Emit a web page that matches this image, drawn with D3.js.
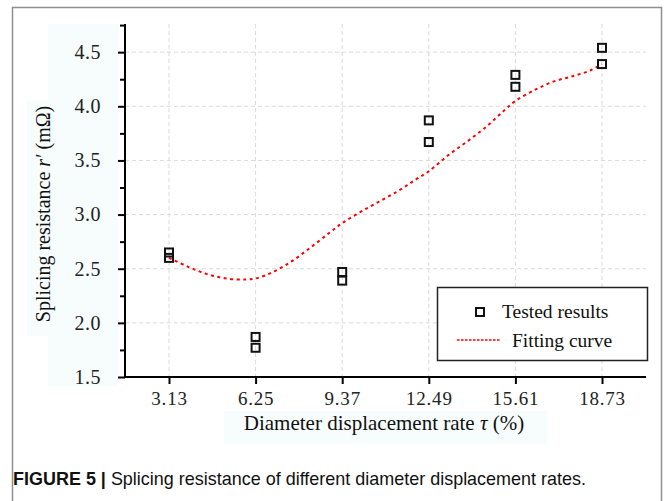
<!DOCTYPE html>
<html>
<head>
<meta charset="utf-8">
<script src="https://d3js.org/d3.v7.min.js"></script>
<style>
  html, body { margin: 0; padding: 0; background: #fff; }
  svg { display: block; }
</style>
</head>
<body>
<div id="chart"></div>
<script>
// Splicing resistance vs diameter displacement rate

const xTicks = [3.13, 6.25, 9.37, 12.49, 15.61, 18.73];
const yTicks = [1.5, 2.0, 2.5, 3.0, 3.5, 4.0, 4.5];

// tested results (two samples per rate)
const testedX = [3.13, 3.13, 6.25, 6.25, 9.37, 9.37, 12.49, 12.49, 15.61, 15.61, 18.73, 18.73];
const testedY = [2.65, 2.60, 1.87, 1.77, 2.47, 2.39, 3.87, 3.67, 4.29, 4.18, 4.54, 4.39];

// fitting curve
const fitX = [3.13, 3.8, 4.5, 5.2, 5.9, 6.25, 6.8, 7.5, 8.2, 8.9, 9.37, 10.0, 10.7, 11.4, 12.0, 12.49, 13.2, 13.9, 14.6, 15.2, 15.61, 16.3, 17.0, 17.7, 18.3, 18.73];
const fitY = [2.60, 2.52, 2.45, 2.41, 2.40, 2.41, 2.46, 2.56, 2.69, 2.83, 2.92, 3.02, 3.12, 3.22, 3.32, 3.40, 3.55, 3.68, 3.82, 3.96, 4.05, 4.15, 4.23, 4.28, 4.33, 4.39];

const width = 665, height = 501;
const plot = { left: 125, right: 646, top: 24, bottom: 377 };

const svg = d3.select('#chart').append('svg')
  .attr('width', width)
  .attr('height', height);

// very faint tint behind axis text (as in the scan)
const tint = '#f7fcfd';
svg.append('rect').attr('x', 48).attr('y', 24).attr('width', 70).attr('height', 362).attr('fill', tint);
svg.append('rect').attr('x', 27).attr('y', 100).attr('width', 30).attr('height', 236).attr('fill', tint);
svg.append('rect').attr('x', 224).attr('y', 411).attr('width', 323).attr('height', 33).attr('fill', tint);

// outer frame
svg.append('rect')
  .attr('x', 12.5).attr('y', 7.5)
  .attr('width', 649).attr('height', 600)
  .attr('fill', 'none')
  .attr('stroke', '#8f8f8f')
  .attr('stroke-width', 1.5);

const x = d3.scaleLinear()
  .domain([3.13 - 1.585, 18.73 + 1.585])
  .range([plot.left, plot.right]);

const y = d3.scaleLinear()
  .domain([1.5, 4.76])
  .range([plot.bottom, plot.top]);

// grid
const grid = svg.append('g').attr('class', 'grid');
grid.selectAll('.vgrid')
  .data(xTicks)
  .enter().append('line')
  .attr('x1', d => x(d)).attr('x2', d => x(d))
  .attr('y1', plot.top).attr('y2', plot.bottom)
  .attr('stroke', '#dadada')
  .attr('stroke-width', 1)
  .attr('stroke-dasharray', '4,3');
grid.selectAll('.hgrid')
  .data(yTicks.slice(1))
  .enter().append('line')
  .attr('x1', plot.left).attr('x2', plot.right)
  .attr('y1', d => y(d)).attr('y2', d => y(d))
  .attr('stroke', '#dadada')
  .attr('stroke-width', 1)
  .attr('stroke-dasharray', '4,3');

const serif = '"Liberation Serif", "Times New Roman", serif';

// y axis with minor ticks
const minorTicks = yTicks.map(d => d + 0.25);
const yMinor = d3.axisLeft(y).tickValues(minorTicks).tickSize(5).tickFormat('');
svg.append('g')
  .attr('transform', `translate(${plot.left},0)`)
  .call(yMinor)
  .call(g => g.select('.domain').remove())
  .call(g => g.selectAll('line').attr('stroke', '#000').attr('stroke-width', 2));

const yAxis = d3.axisLeft(y).tickValues(yTicks).tickSize(7).tickPadding(17).tickFormat(d3.format('.1f'));
svg.append('g')
  .attr('transform', `translate(${plot.left},0)`)
  .call(yAxis)
  .call(g => g.select('.domain').attr('d', `M0,${plot.top}V${plot.bottom}`).attr('stroke', '#000').attr('stroke-width', 2))
  .call(g => g.selectAll('line').attr('stroke', '#000').attr('stroke-width', 2))
  .call(g => g.selectAll('text')
    .attr('fill', '#222')
    .style('font-family', serif)
    .style('font-size', '20px')
    .style('letter-spacing', '0.5px'));

// x axis
const xAxis = d3.axisBottom(x).tickValues(xTicks).tickSize(7).tickPadding(8).tickFormat(d3.format('.2f'));
svg.append('g')
  .attr('transform', `translate(0,${plot.bottom})`)
  .call(xAxis)
  .call(g => g.select('.domain').attr('d', `M${plot.left},0H${plot.right}`).attr('stroke', '#000').attr('stroke-width', 2))
  .call(g => g.selectAll('line').attr('stroke', '#000').attr('stroke-width', 2))
  .call(g => g.selectAll('text')
    .attr('fill', '#222')
    .style('font-family', serif)
    .style('font-size', '19px')
    .style('letter-spacing', '0.8px'));

// fitting curve
const fitData = fitX.map((d, i) => [d, fitY[i]]);
const line = d3.line()
  .x(d => x(d[0]))
  .y(d => y(d[1]))
  .curve(d3.curveCatmullRom);
svg.append('path')
  .datum(fitData)
  .attr('d', line)
  .attr('fill', 'none')
  .attr('stroke', '#ff0000')
  .attr('stroke-width', 2)
  .attr('stroke-dasharray', '3,3.5');

// tested results
const sq = 8;
svg.selectAll('.tested')
  .data(testedX.map((d, i) => [d, testedY[i]]))
  .enter().append('rect')
  .attr('class', 'tested')
  .attr('x', d => x(d[0]) - sq / 2)
  .attr('y', d => y(d[1]) - sq / 2)
  .attr('width', sq).attr('height', sq)
  .attr('fill', 'none')
  .attr('stroke', '#111')
  .attr('stroke-width', 2);

// legend
const legend = svg.append('g');
legend.append('rect')
  .attr('x', 437.5).attr('y', 287.5)
  .attr('width', 210).attr('height', 73)
  .attr('fill', '#fff')
  .attr('stroke', '#222')
  .attr('stroke-width', 1.5);
legend.append('rect')
  .attr('x', 476).attr('y', 308)
  .attr('width', sq).attr('height', sq)
  .attr('fill', 'none').attr('stroke', '#111').attr('stroke-width', 2);
legend.append('line')
  .attr('x1', 457).attr('x2', 501)
  .attr('y1', 340).attr('y2', 340)
  .attr('stroke', '#ff0000').attr('stroke-width', 1.5)
  .attr('stroke-dasharray', '2.5,1.5');
legend.append('text')
  .attr('x', 502).attr('y', 318)
  .style('font-family', serif).style('font-size', '19.5px')
  .attr('fill', '#111')
  .text('Tested results');
legend.append('text')
  .attr('x', 512).attr('y', 347)
  .style('font-family', serif).style('font-size', '19.5px')
  .attr('fill', '#111')
  .text('Fitting curve');

// axis titles
const xTitle = svg.append('text')
  .attr('x', 384).attr('y', 430)
  .attr('text-anchor', 'middle')
  .style('font-family', serif).style('font-size', '21px')
  .attr('fill', '#111');
xTitle.append('tspan').text('Diameter displacement rate ');
xTitle.append('tspan').style('font-style', 'italic').text('τ');
xTitle.append('tspan').text(' (%)');

const yTitle = svg.append('text')
  .attr('transform', 'translate(50,214) rotate(-90)')
  .attr('text-anchor', 'middle')
  .style('font-family', serif).style('font-size', '20px')
  .attr('fill', '#111');
yTitle.append('tspan').text('Splicing resistance ');
yTitle.append('tspan').style('font-style', 'italic').text('r′');
yTitle.append('tspan').text(' (mΩ)');

// caption
const caption = svg.append('text')
  .attr('x', 13).attr('y', 485)
  .attr('textLength', 573)
  .attr('lengthAdjust', 'spacingAndGlyphs')
  .style('font-family', '"Liberation Sans", Arial, sans-serif')
  .style('font-size', '19px')
  .attr('fill', '#111');
caption.append('tspan').style('font-weight', 'bold').text('FIGURE 5 | ');
caption.append('tspan').text('Splicing resistance of different diameter displacement rates.');
</script>
</body>
</html>
